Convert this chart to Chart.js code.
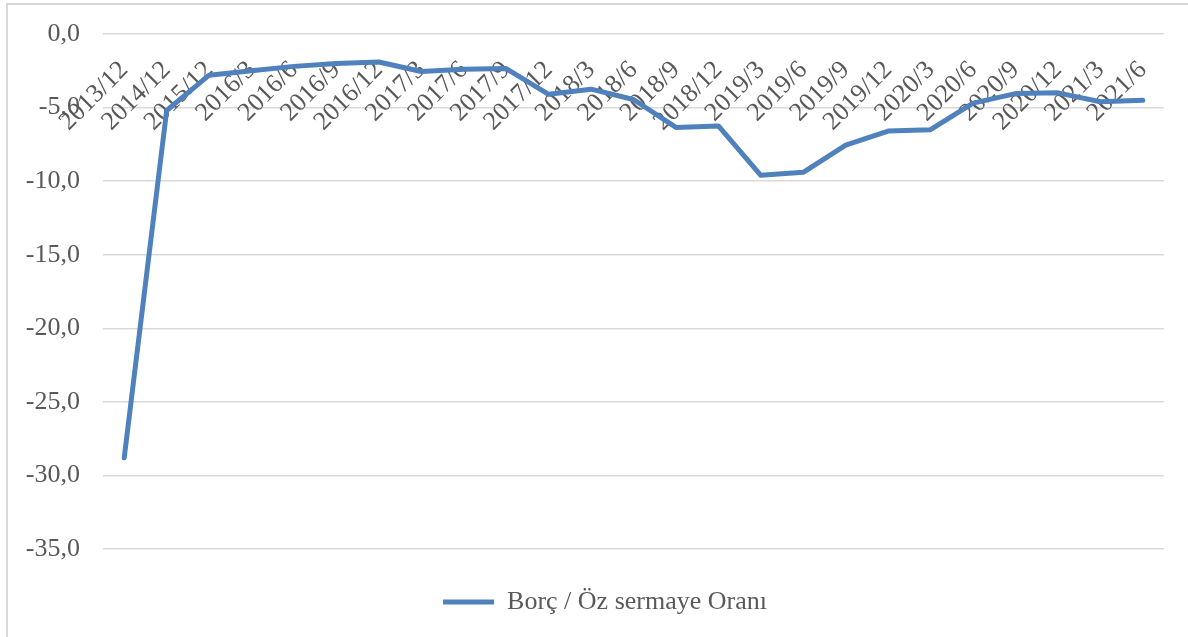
<!DOCTYPE html>
<html>
<head>
<meta charset="utf-8">
<script src="https://cdn.jsdelivr.net/npm/chart.js@4/dist/chart.umd.min.js"></script>
<style>
  html, body { margin: 0; padding: 0; background: #ffffff; overflow: hidden; width: 1188px; height: 637px; }
  #frame { position: absolute; left: 6px; top: 3px; width: 1300px; height: 700px; border: 2px solid #d9d9d9; }
  #c { position: absolute; left: 0; top: 0; }
</style>
</head>
<body>
<div id="frame"></div>
<canvas id="c" width="1188" height="637"></canvas>
<script>
const categories = ["2013/12", "2014/12", "2015/12", "2016/3", "2016/6", "2016/9", "2016/12",
  "2017/3", "2017/6", "2017/9", "2017/12", "2018/3", "2018/6", "2018/9", "2018/12",
  "2019/3", "2019/6", "2019/9", "2019/12", "2020/3", "2020/6", "2020/9", "2020/12",
  "2021/3", "2021/6"];
const ratioValues = [-28.8, -5.2, -2.8, -2.5, -2.2, -2.0, -1.9,
  -2.55, -2.4, -2.35, -4.1, -3.75, -4.45, -6.35, -6.25,
  -9.6, -9.4, -7.55, -6.6, -6.5, -4.7, -4.05, -4.0,
  -4.6, -4.5];
const seriesName = "Borç / Öz sermaye Oranı";
const yMin = -35, yMax = 0, yStep = 5;

const FONT = "'Liberation Serif', 'Times New Roman', serif";
const TEXT = "#595959";

function zeroPad(s) {
  s.paddingTop = 0; s.paddingBottom = 0;
}

new Chart(document.getElementById('c'), {
  type: 'line',
  data: {
    labels: categories,
    datasets: [{
      label: seriesName,
      data: ratioValues,
      borderColor: '#4F81BD',
      backgroundColor: '#4F81BD',
      borderWidth: 5,
      borderCapStyle: 'round',
      borderJoinStyle: 'round',
      pointRadius: 0,
      pointHoverRadius: 0,
      tension: 0,
      fill: false
    }]
  },
  options: {
    responsive: false,
    animation: false,
    events: [],
    layout: { padding: { left: 22, right: 0, top: 34, bottom: 12 } },
    scales: {
      x: {
        type: 'category',
        position: { y: 0 },
        offset: true,
        grid: { display: false, drawTicks: false },
        border: { display: false },
        ticks: {
          autoSkip: false,
          minRotation: 45,
          maxRotation: 45,
          padding: 21,
          color: TEXT,
          font: { family: FONT, size: 26 }
        },
        afterFit: s => { zeroPad(s); }
      },
      y: {
        position: 'left',
        min: yMin,
        max: yMax,
        grid: { color: '#d9d9d9', lineWidth: 1.5, drawTicks: false },
        border: { display: false },
        ticks: {
          stepSize: yStep,
          padding: 23,
          color: TEXT,
          font: { family: FONT, size: 26 },
          callback: v => v.toFixed(1).replace('.', ',')
        },
        afterFit: s => { s.width = 81; zeroPad(s); }
      },
      yRight: {
        position: 'right',
        display: true,
        grid: { display: false, drawTicks: false },
        border: { display: false },
        ticks: { display: false },
        afterFit: s => { s.width = 24; zeroPad(s); }
      }
    },
    plugins: {
      tooltip: { enabled: false },
      legend: {
        position: 'bottom',
        labels: {
          usePointStyle: true,
          pointStyle: 'line',
          pointStyleWidth: 51,
          padding: 40,
          color: TEXT,
          font: { family: FONT, size: 26 }
        }
      }
    }
  }
});
</script>
</body>
</html>
